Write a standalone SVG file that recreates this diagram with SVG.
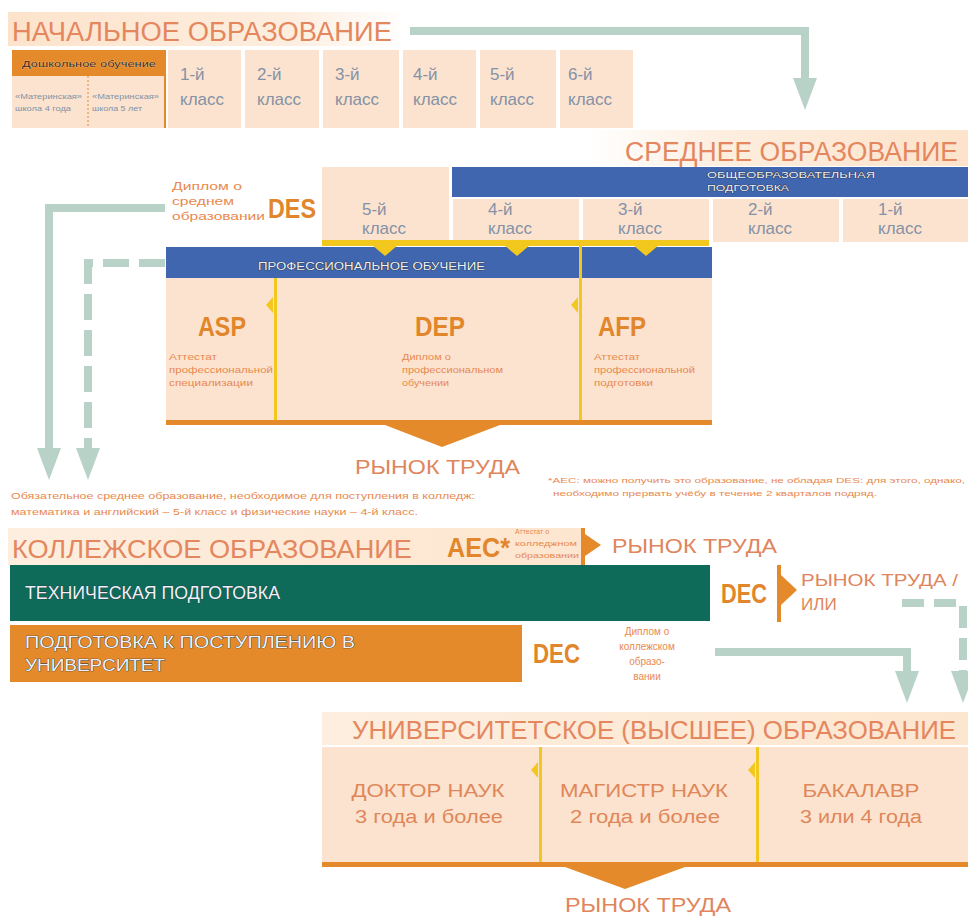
<svg xmlns="http://www.w3.org/2000/svg" width="968" height="916" viewBox="0 0 968 916">
<defs>
<linearGradient id="gL" x1="0" x2="1" y1="0" y2="0"><stop offset="0" stop-color="#fde3cb"/><stop offset="0.7" stop-color="#fdeedf"/><stop offset="1" stop-color="#ffffff"/></linearGradient>
<linearGradient id="gR" x1="0" x2="1" y1="0" y2="0"><stop offset="0" stop-color="#ffffff"/><stop offset="0.35" stop-color="#fdeedf"/><stop offset="1" stop-color="#fde3cb"/></linearGradient>
<linearGradient id="gU" x1="0" x2="1" y1="0" y2="0"><stop offset="0" stop-color="#fdeedf"/><stop offset="1" stop-color="#fde6cf"/></linearGradient>
<marker id="ah" markerUnits="userSpaceOnUse" markerWidth="32" markerHeight="24" refX="0" refY="12" orient="auto" viewBox="0 0 32 24"><path d="M0,0 L32,12 L0,24 z" fill="#b9d2c8"/></marker>
</defs>
<style>
text{font-family:"Liberation Sans",Arial,sans-serif}
.hdr{font-size:27px;fill:#e4875f}
.grade{font-size:17px;fill:#8591a6}
.sm{font-size:8.5px;fill:#e8894f}
.smg{font-size:7px;fill:#8591a6}
.code{font-size:28px;font-weight:bold;fill:#e2862c}
.lbl{fill:#eef2f8;stroke:#2a2f3a;stroke-width:0.7;paint-order:stroke}
.mk{font-size:20px;fill:#e0855c}
.cell{fill:#fbe3cf}
.yel{fill:#f2c81e}
.org{fill:#e48a2a}
.blue{fill:#3f66ae}
.uni{font-size:18px;fill:#e0875a}
.con{fill:none;stroke:#b9d2c8;stroke-width:8}
</style>

<g id="connectors">
<path class="con" d="M410,31 H805 V78" marker-end="url(#ah)"/>
<path class="con" d="M165,208 H49 V448" marker-end="url(#ah)"/>
<path class="con" d="M165,263 H88 V448" stroke-dasharray="26 10" marker-end="url(#ah)"/>
<path class="con" d="M715,652 H907 V671" marker-end="url(#ah)"/>
<path class="con" d="M902,603 H963 V671" stroke-dasharray="22 10" marker-end="url(#ah)"/>
</g>

<g id="primary">
<rect x="8" y="12" width="400" height="34" fill="url(#gL)"/>
<text class="hdr" x="12" y="41" textLength="380" lengthAdjust="spacingAndGlyphs">НАЧАЛЬНОЕ ОБРАЗОВАНИЕ</text>
</g>

<g id="preschool">
<rect x="12" y="50" width="154" height="26" class="org"/>
<text x="22" y="67" class="lbl" style="font-size:8.5px;fill:#3a2a1a;stroke:#f7c89a;stroke-width:0.5" textLength="134" lengthAdjust="spacingAndGlyphs">Дошкольное обучение</text>
<rect x="12" y="76" width="154" height="52" class="cell"/>
<line x1="88" y1="76" x2="88" y2="128" stroke="#e48a2a" stroke-width="1" stroke-dasharray="2 2"/>
<line x1="165" y1="76" x2="165" y2="128" stroke="#e48a2a" stroke-width="2"/>
<text class="smg" x="15" y="99" textLength="67" lengthAdjust="spacingAndGlyphs">«Материнская»</text>
<text class="smg" x="15" y="111" textLength="56" lengthAdjust="spacingAndGlyphs">школа 4 года</text>
<text class="smg" x="92" y="99" textLength="67" lengthAdjust="spacingAndGlyphs">«Материнская»</text>
<text class="smg" x="92" y="111" textLength="50" lengthAdjust="spacingAndGlyphs">школа 5 лет</text>
</g>

<g id="p1"><rect x="168" y="50" width="73" height="78" class="cell"/><text class="grade" x="180" y="80">1-й</text><text class="grade" x="180" y="105">класс</text></g>
<g id="p2"><rect x="245" y="50" width="74" height="78" class="cell"/><text class="grade" x="257" y="80">2-й</text><text class="grade" x="257" y="105">класс</text></g>
<g id="p3"><rect x="323" y="50" width="76" height="78" class="cell"/><text class="grade" x="335" y="80">3-й</text><text class="grade" x="335" y="105">класс</text></g>
<g id="p4"><rect x="403" y="50" width="73" height="78" class="cell"/><text class="grade" x="413" y="80">4-й</text><text class="grade" x="413" y="105">класс</text></g>
<g id="p5"><rect x="480" y="50" width="76" height="78" class="cell"/><text class="grade" x="490" y="80">5-й</text><text class="grade" x="490" y="105">класс</text></g>
<g id="p6"><rect x="560" y="50" width="73" height="78" class="cell"/><text class="grade" x="568" y="80">6-й</text><text class="grade" x="568" y="105">класс</text></g>

<g id="secondary">
<rect x="590" y="130" width="378" height="36" fill="url(#gR)"/>
<text class="hdr" x="625" y="161" textLength="333" lengthAdjust="spacingAndGlyphs">СРЕДНЕЕ ОБРАЗОВАНИЕ</text>
</g>

<g id="general">
<rect x="452" y="167" width="516" height="30" class="blue"/>
<text x="707" y="178" font-size="9" class="lbl" textLength="168" lengthAdjust="spacingAndGlyphs">ОБЩЕОБРАЗОВАТЕЛЬНАЯ</text>
<text x="707" y="191" font-size="9" class="lbl" textLength="82" lengthAdjust="spacingAndGlyphs">ПОДГОТОВКА</text>
</g>

<g id="s5"><rect x="322" y="167" width="127" height="75" class="cell"/><text class="grade" x="362" y="215">5-й</text><text class="grade" x="362" y="234">класс</text></g>
<g id="s4"><rect x="453" y="199" width="126" height="43" class="cell"/><text class="grade" x="488" y="215">4-й</text><text class="grade" x="488" y="234">класс</text></g>
<g id="s3"><rect x="583" y="199" width="126" height="43" class="cell"/><text class="grade" x="618" y="215">3-й</text><text class="grade" x="618" y="234">класс</text></g>
<g id="s2"><rect x="713" y="199" width="126" height="43" class="cell"/><text class="grade" x="748" y="215">2-й</text><text class="grade" x="748" y="234">класс</text></g>
<g id="s1"><rect x="843" y="199" width="125" height="43" class="cell"/><text class="grade" x="878" y="215">1-й</text><text class="grade" x="878" y="234">класс</text></g>

<g id="des">
<text class="sm" x="172" y="190" style="font-size:11px" textLength="70" lengthAdjust="spacingAndGlyphs">Диплом о</text>
<text class="sm" x="172" y="205" style="font-size:11px" textLength="62" lengthAdjust="spacingAndGlyphs">среднем</text>
<text class="sm" x="172" y="220" style="font-size:11px" textLength="93" lengthAdjust="spacingAndGlyphs">образовании</text>
<text class="code" x="268" y="218" textLength="48" lengthAdjust="spacingAndGlyphs">DES</text>
</g>

<g id="professional">
<rect x="166" y="247" width="546" height="31" class="blue"/>
<rect x="322" y="240" width="387" height="6" class="yel"/>
<polygon class="yel" points="372,245 398,245 385,256"/>
<polygon class="yel" points="504,245 530,245 517,256"/>
<polygon class="yel" points="633,245 659,245 646,256"/>
<rect x="579" y="246" width="3" height="32" class="yel"/>
<text x="258" y="270" font-size="10" class="lbl" textLength="227" lengthAdjust="spacingAndGlyphs">ПРОФЕССИОНАЛЬНОЕ ОБУЧЕНИЕ</text>
<rect x="166" y="278" width="546" height="142" class="cell"/>
<rect x="166" y="420" width="546" height="5" class="org"/>
<polygon class="org" points="385,425 500,425 442,447"/>
<text class="mk" x="355" y="474" textLength="165" lengthAdjust="spacingAndGlyphs">РЫНОК ТРУДА</text>
</g>

<g id="asp">
<rect x="274" y="278" width="3" height="142" class="yel"/>
<polygon class="yel" points="273,297 273,313 266,305"/>
<text class="code" x="198" y="336" textLength="48" lengthAdjust="spacingAndGlyphs">ASP</text>
<text class="sm" x="169" y="360" textLength="48" lengthAdjust="spacingAndGlyphs">Аттестат</text>
<text class="sm" x="169" y="373" textLength="104" lengthAdjust="spacingAndGlyphs">профессиональной</text>
<text class="sm" x="169" y="386" textLength="84" lengthAdjust="spacingAndGlyphs">специализации</text>
</g>
<g id="dep">
<text class="code" x="415" y="336" textLength="50" lengthAdjust="spacingAndGlyphs">DEP</text>
<text class="sm" x="402" y="360" textLength="49" lengthAdjust="spacingAndGlyphs">Диплом о</text>
<text class="sm" x="402" y="373" textLength="101" lengthAdjust="spacingAndGlyphs">профессиональном</text>
<text class="sm" x="402" y="386" textLength="47" lengthAdjust="spacingAndGlyphs">обучении</text>
</g>
<g id="afp">
<rect x="579" y="278" width="3" height="142" class="yel"/>
<polygon class="yel" points="578,297 578,313 571,305"/>
<text class="code" x="598" y="336" textLength="48" lengthAdjust="spacingAndGlyphs">AFP</text>
<text class="sm" x="594" y="360" textLength="46" lengthAdjust="spacingAndGlyphs">Аттестат</text>
<text class="sm" x="594" y="373" textLength="101" lengthAdjust="spacingAndGlyphs">профессиональной</text>
<text class="sm" x="594" y="386" textLength="59" lengthAdjust="spacingAndGlyphs">подготовки</text>
</g>

<g id="notes">
<text class="sm" x="11" y="499" style="font-size:9px" textLength="464" lengthAdjust="spacingAndGlyphs">Обязательное среднее образование, необходимое для поступления в колледж:</text>
<text class="sm" x="11" y="515" style="font-size:9px" textLength="407" lengthAdjust="spacingAndGlyphs">математика и английский – 5-й класс и физические науки – 4-й класс.</text>
<text class="sm" x="548" y="483" style="font-size:8px" textLength="417" lengthAdjust="spacingAndGlyphs">*AEC: можно получить это образование, не обладая DES: для этого, однако,</text>
<text class="sm" x="553" y="496" style="font-size:8px" textLength="324" lengthAdjust="spacingAndGlyphs">необходимо  прервать учёбу в течение 2 кварталов подряд.</text>
</g>

<g id="college">
<rect x="8" y="528" width="574" height="37" fill="url(#gU)"/>
<text class="hdr" x="12" y="558" style="font-size:25px" textLength="400" lengthAdjust="spacingAndGlyphs">КОЛЛЕЖСКОЕ ОБРАЗОВАНИЕ</text>
<text class="code" x="447" y="557" textLength="63" lengthAdjust="spacingAndGlyphs">AEC*</text>
<text class="sm" x="515" y="534" style="font-size:7px">Аттестат о</text>
<text class="sm" x="515" y="546" style="font-size:7px" textLength="62" lengthAdjust="spacingAndGlyphs">колледжном</text>
<text class="sm" x="515" y="558" style="font-size:7px" textLength="64" lengthAdjust="spacingAndGlyphs">образовании</text>
<rect x="581" y="528" width="4" height="37" class="org"/>
<polygon class="org" points="585,534 601,545 585,556"/>
<text class="mk" x="612" y="553" textLength="165" lengthAdjust="spacingAndGlyphs">РЫНОК ТРУДА</text>
</g>

<g id="technical">
<rect x="10" y="565" width="700" height="56" fill="#0e6b5a"/>
<text x="25" y="599" font-size="18" class="lbl" textLength="255" lengthAdjust="spacingAndGlyphs">ТЕХНИЧЕСКАЯ ПОДГОТОВКА</text>
<text class="code" x="721" y="603" textLength="46" lengthAdjust="spacingAndGlyphs">DEC</text>
<rect x="777" y="565" width="4" height="57" class="org"/>
<polygon class="org" points="781,575 797,590 781,605"/>
<text class="mk" x="801" y="586" style="font-size:17px" textLength="157" lengthAdjust="spacingAndGlyphs">РЫНОК ТРУДА /</text>
<text class="mk" x="801" y="610" style="font-size:17px">ИЛИ</text>
</g>

<g id="preuniversity">
<rect x="10" y="625" width="512" height="57" class="org"/>
<text x="25" y="648" font-size="17" class="lbl" textLength="330" lengthAdjust="spacingAndGlyphs">ПОДГОТОВКА К ПОСТУПЛЕНИЮ В</text>
<text x="25" y="671" font-size="17" class="lbl" textLength="140" lengthAdjust="spacingAndGlyphs">УНИВЕРСИТЕТ</text>
<text class="code" x="533" y="663" textLength="47" lengthAdjust="spacingAndGlyphs">DEC</text>
<text class="sm" x="647" y="635" style="font-size:10px" text-anchor="middle">Диплом о</text>
<text class="sm" x="647" y="650" style="font-size:10px" text-anchor="middle">коллежском</text>
<text class="sm" x="647" y="665" style="font-size:10px" text-anchor="middle">образо-</text>
<text class="sm" x="647" y="680" style="font-size:10px" text-anchor="middle">вании</text>
</g>

<g id="university">
<rect x="322" y="712" width="646" height="33" fill="url(#gU)"/>
<text class="hdr" x="352" y="739" style="font-size:25px" textLength="604" lengthAdjust="spacingAndGlyphs">УНИВЕРСИТЕТСКОЕ (ВЫСШЕЕ) ОБРАЗОВАНИЕ</text>
<rect x="322" y="747" width="646" height="115" class="cell"/>
<rect x="322" y="862" width="646" height="5" class="org"/>
<polygon class="org" points="565,867 685,867 625,889"/>
<text class="mk" x="565" y="912" textLength="166" lengthAdjust="spacingAndGlyphs">РЫНОК ТРУДА</text>
</g>
<g id="doctor">
<text class="uni" x="428" y="797" text-anchor="middle" textLength="153" lengthAdjust="spacingAndGlyphs">ДОКТОР НАУК</text>
<text class="uni" x="429" y="823" text-anchor="middle" textLength="148" lengthAdjust="spacingAndGlyphs">3 года и более</text>
</g>
<g id="master">
<rect x="539" y="747" width="3" height="115" class="yel"/>
<polygon class="yel" points="538,762 538,778 531,770"/>
<text class="uni" x="644" y="797" text-anchor="middle" textLength="168" lengthAdjust="spacingAndGlyphs">МАГИСТР НАУК</text>
<text class="uni" x="645" y="823" text-anchor="middle" textLength="150" lengthAdjust="spacingAndGlyphs">2 года и более</text>
</g>
<g id="bachelor">
<rect x="756" y="747" width="3" height="115" class="yel"/>
<polygon class="yel" points="755,762 755,778 748,770"/>
<text class="uni" x="861" y="797" text-anchor="middle" textLength="117" lengthAdjust="spacingAndGlyphs">БАКАЛАВР</text>
<text class="uni" x="861" y="823" text-anchor="middle" textLength="122" lengthAdjust="spacingAndGlyphs">3 или 4 года</text>
</g>
</svg>
